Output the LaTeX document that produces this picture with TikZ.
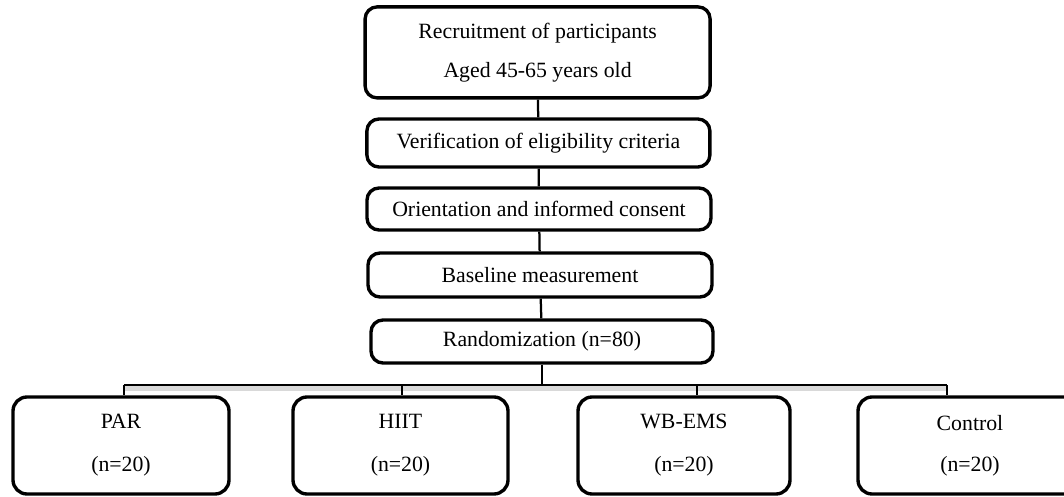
\documentclass[tikz,border=0pt]{standalone}
\usepackage{fontspec}
\setmainfont{Liberation Serif}
\begin{document}
\begin{tikzpicture}[transform shape,
	stagebox/.style={shape=rectangle, draw, line width=2.4pt, rounded corners=0.3cm, align=center, inner sep=0pt, font=\fontsize{15.5}{18}\selectfont},
	armbox/.style={stagebox, rounded corners=0.35cm, minimum width=5.35cm, minimum height=2.425cm},
	wire/.style={line width=1.6pt},
	thinwire/.style={line width=1pt}]
	\useasboundingbox (0,0) rectangle (26.6,12.4);
	% Stages:
	\node[stagebox, minimum width=8.625cm, minimum height=2.275cm](N1) at (13.44, 11.09){Recruitment of participants\\[9.7pt]Aged 45-65 years old};
	\node[stagebox, minimum width=8.575cm, minimum height=1.2cm](N2) at (13.46, 8.825){Verification of eligibility criteria};
	\node[stagebox, minimum width=8.6cm, minimum height=1.05cm](N3) at (13.475, 7.175){Orientation and informed consent};
	\node[stagebox, minimum width=8.6cm, minimum height=1.1cm](N4) at (13.5, 5.525){Baseline measurement};
	\node[stagebox, minimum width=8.55cm, minimum height=1.075cm](N5) at (13.55, 3.8625){Randomization (n=80)};
	% Groups:
	\node[armbox, minimum width=5.4cm](A1) at (3.025, 1.2625){PAR\\[12.6pt](n=20)};
	\node[armbox, minimum width=5.375cm](A2) at (10.0125, 1.2625){HIIT\\[12.6pt](n=20)};
	\node[armbox, minimum width=5.3cm](A3) at (17.1, 1.2625){WB-EMS\\[12.6pt](n=20)};
	\node[armbox, minimum width=5.6cm](A4) at (24.25, 1.2625){Control\\[11pt](n=20)};
	% Paths and wires:
	\draw[wire] (N1) -- (N2);
	\draw[wire] (N2) -- (N3);
	\draw[wire] (N3) -- (N4);
	\draw[wire] (N4) -- (N5);
	\coordinate (H) at (13.55, 2.775);
	\coordinate (HL) at (3.1, 2.775);
	\coordinate (HR) at (23.675, 2.775);
	\fill[black!15] ([yshift=-0.6pt]HL) rectangle ([yshift=-4pt]HR);
	\draw[wire] (N5) -- (H);
	\draw[thinwire] (HL) -- (HR);
	\draw[thinwire] (HL) -- (HL |- A1.north);
	\draw[thinwire] ([xshift=0.0375cm]A2.north |- H) -- ([xshift=0.0375cm]A2.north);
	\draw[thinwire] ([xshift=0.325cm]A3.north |- H) -- ([xshift=0.325cm]A3.north);
	\draw[thinwire] (HR) -- (HR |- A4.north);
\end{tikzpicture}
\end{document}
